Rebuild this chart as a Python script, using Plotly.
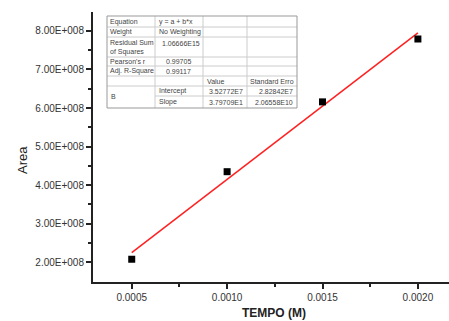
import numpy as np
import plotly.graph_objects as go

# ---- data ----
tempo = [0.0005, 0.0010, 0.0015, 0.0020]
area = [2.08e8, 4.35e8, 6.16e8, 7.79e8]
fit_intercept = 3.52772e7
fit_slope = 3.79709e11
fit_x = [0.0005, 0.0020]

y_tickvals = [2e8, 3e8, 4e8, 5e8, 6e8, 7e8, 8e8]
y_ticktext = ["2.00E+008", "3.00E+008", "4.00E+008", "5.00E+008",
              "6.00E+008", "7.00E+008", "8.00E+008"]
x_tickvals = [0.0005, 0.0010, 0.0015, 0.0020]
x_ticktext = ["0.0005", "0.0010", "0.0015", "0.0020"]

# table content (row label, value cells)
table_rows = [
    ["Equation", "y = a + b*x", "", ""],
    ["Weight", "No Weighting", "", ""],
    ["Residual Sum<br>of Squares", "1.06666E15", "", ""],
    ["Pearson's r", "0.99705", "", ""],
    ["Adj. R-Square", "0.99117", "", ""],
    ["", "", "Value", "Standard Erro"],
    ["B", "Intercept", "3.52772E7", "2.82842E7"],
    ["", "Slope", "3.79709E1", "2.06558E10"],
]

W, H = 449, 321
ML, MR, MT, MB = 93, 0, 12, 39
PW, PH = W - ML - MR, H - MT - MB


def px(x):
    return (x - ML) / PW


def py(y):
    return (H - MB - y) / PH


fit_y = [fit_intercept + fit_slope * x for x in fit_x]

fig = go.Figure()
fig.add_trace(go.Scatter(x=fit_x, y=fit_y, mode="lines",
                         line=dict(color="#ff2020", width=1.5), hoverinfo="skip"))
fig.add_trace(go.Scatter(x=tempo, y=area, mode="markers",
                         marker=dict(symbol="square", size=7, color="black")))

shapes = []
annotations = []

# table geometry (pixels)
col_x = [107, 155, 203, 247, 297]
row_y = [16, 27, 37, 57, 66, 76, 86, 96, 108]
inner = "#cccccc"
outer = "#999999"

# horizontal inner lines
for i, yy in enumerate(row_y[1:-1], start=1):
    x0 = col_x[0]
    if i == 7:  # merged "B" cell
        x0 = col_x[1]
    shapes.append(dict(type="line", xref="paper", yref="paper",
                       x0=px(x0), x1=px(col_x[-1]), y0=py(yy), y1=py(yy),
                       line=dict(color=inner, width=1)))
for xx in col_x[1:-1]:
    shapes.append(dict(type="line", xref="paper", yref="paper",
                       x0=px(xx), x1=px(xx), y0=py(row_y[0]), y1=py(row_y[-1]),
                       line=dict(color=inner, width=1)))
shapes.append(dict(type="rect", xref="paper", yref="paper",
                   x0=px(col_x[0]), x1=px(col_x[-1]), y0=py(row_y[-1]), y1=py(row_y[0]),
                   line=dict(color=outer, width=1)))

tfont = dict(family="Liberation Sans, Arial", size=7, color="#444444")


def add_text(text, x, y, anchor="left"):
    annotations.append(dict(text=text, xref="paper", yref="paper",
                            x=px(x), y=py(y), xanchor=anchor, yanchor="middle",
                            showarrow=False, font=tfont, align="left", borderpad=0))


for r, row in enumerate(table_rows):
    yc = (row_y[r] + row_y[r + 1]) / 2
    if r == 6:
        add_text(row[0], col_x[0] + 3, (row_y[6] + row_y[8]) / 2)
    elif r == 7:
        pass
    elif row[0]:
        add_text(row[0], col_x[0] + 2, yc)
    if row[1]:
        if r in (3, 4):
            add_text(row[1], 192, yc, "right")
        elif r == 2:
            add_text(row[1], 161, yc - 4)
        else:
            add_text(row[1], col_x[1] + 3, yc)
    if row[2]:
        if r == 5:
            add_text(row[2], col_x[2] + 3, yc)
        else:
            add_text(row[2], col_x[3] - 3, yc, "right")
    if row[3]:
        if r == 5:
            add_text(row[3], col_x[3] + 2, yc)
        else:
            add_text(row[3], col_x[4] - 3, yc, "right")

# axis titles
annotations.append(dict(text="Area", xref="paper", yref="paper", x=px(22), y=py(160),
                        xanchor="center", yanchor="middle", textangle=-90, showarrow=False,
                        font=dict(family="Liberation Sans, Arial", size=13, color="#222")))
annotations.append(dict(text="<b>TEMPO (M)</b>", xref="paper", yref="paper", x=px(274), y=py(313),
                        xanchor="center", yanchor="middle", showarrow=False,
                        font=dict(family="Liberation Sans, Arial", size=12, color="#222")))

axfont = dict(family="Liberation Sans, Arial", size=10, color="#333")

fig.update_layout(
    width=W, height=H,
    margin=dict(l=ML, r=MR, t=MT, b=MB),
    paper_bgcolor="white", plot_bgcolor="white",
    showlegend=False,
    shapes=shapes, annotations=annotations,
    xaxis=dict(range=[0.000297, 0.002163], tickvals=x_tickvals, ticktext=x_ticktext,
               showgrid=False, zeroline=False, showline=True, linecolor="#222", linewidth=2,
               ticks="outside", ticklen=5, tickwidth=1.5, tickcolor="#222", tickfont=axfont,
               minor=dict(tickvals=[0.00075, 0.00125, 0.00175], ticks="outside",
                          ticklen=3, tickwidth=1.5, tickcolor="#222")),
    yaxis=dict(range=[1.49e8, 8.49e8], tickvals=y_tickvals, ticktext=y_ticktext,
               showgrid=False, zeroline=False, showline=True, linecolor="#222", linewidth=2,
               ticks="outside", ticklen=5, tickwidth=1.5, tickcolor="#222", tickfont=axfont,
               minor=dict(tickvals=[2.5e8, 3.5e8, 4.5e8, 5.5e8, 6.5e8, 7.5e8, 8.5e8],
                          ticks="outside", ticklen=3, tickwidth=1.5, tickcolor="#222")),
)

fig.write_html("out.html")
